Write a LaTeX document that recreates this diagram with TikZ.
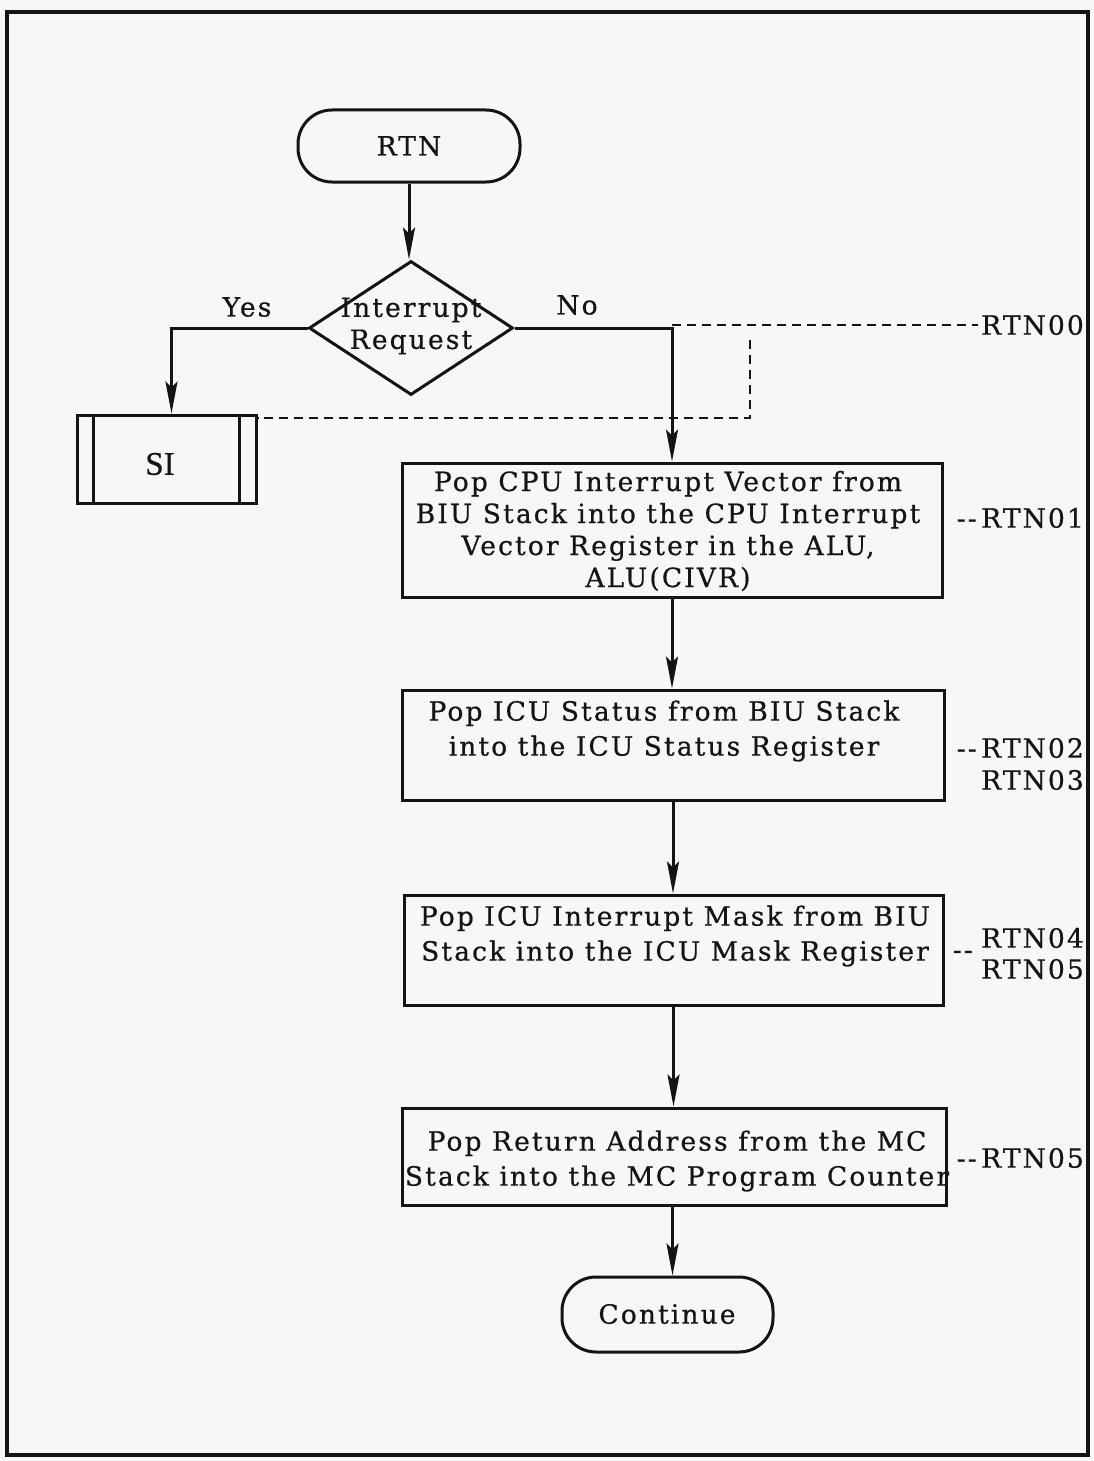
\documentclass[tikz,border=0pt]{standalone}
\usepackage{fontspec}
\setmainfont{DejaVu Serif}[LetterSpace=8,FakeBold=0.6]
\newfontfamily\sifont{Liberation Serif}[FakeBold=0.6]
\usetikzlibrary{shapes.geometric,arrows.meta}
\definecolor{paper}{RGB}{247,247,245}
\definecolor{ink}{RGB}{20,20,20}
\tikzset{
  ln/.style={line width=3pt, draw=ink},
  arr/.style={ln, -{Stealth[length=32pt,width=12pt,inset=6pt]}},
  dsh/.style={line width=2.8pt, draw=ink, dash pattern=on 9pt off 6pt},
  boxnode/.style={ln, rectangle, inner sep=0pt},
  term/.style={ln, rectangle, rounded corners=34pt, inner sep=0pt},
  txt/.style={font=\fontsize{26.5}{32}\selectfont, text=ink, align=center, inner sep=0pt},
  txtw/.style={font=\fontsize{26.5}{35}\selectfont, text=ink, align=center, inner sep=0pt},
  lbl/.style={font=\fontsize{26.5}{31}\selectfont, text=ink, inner sep=0pt}
}
\begin{document}
\begin{tikzpicture}[x=1pt,y=-1pt]
\useasboundingbox (0,0) rectangle (1094,1461);
\fill[paper] (0,0) rectangle (1094,1461);
\draw[line width=3.2pt, draw=ink] (7,12) rectangle (1088,1455);

% terminals
\node[term, minimum width=222pt, minimum height=72pt] (rtn) at (409,146) {};
\node[txt] (rtnt) at (409,146) {RTN};

% decision
\node[ln, diamond, minimum width=204pt, minimum height=134pt, inner sep=0pt] (ir) at (411,328) {};
\node[txt] (irt) at (411,326) {Interrupt\\Request};
\node[lbl] (yes) at (247,307) {Yes};
\node[lbl] (no) at (577,305) {No};

% SI predefined process
\node[boxnode, minimum width=179pt, minimum height=88pt] (si) at (166.5,459) {};
\node[inner sep=0pt, text=ink, font=\sifont\fontsize{33}{36}\selectfont] (sit) at (160,464) {SI};
\draw[ln] ([xshift=18pt]si.north west) -- ([xshift=18pt]si.south west);
\draw[ln] ([xshift=-18pt]si.north east) -- ([xshift=-18pt]si.south east);

% process boxes
\node[boxnode, minimum width=540pt, minimum height=134pt] (b1) at (672,530) {};
\node[txt] (b1t) at (668,531) {Pop CPU Interrupt Vector from\\BIU Stack into the CPU Interrupt\\Vector Register in the ALU,\\ALU(CIVR)};

\node[boxnode, minimum width=542pt, minimum height=110pt] (b2) at (673,745) {};
\node[txtw] (b2t) at (664,731) {Pop ICU Status from BIU Stack\\into the ICU Status Register};

\node[boxnode, minimum width=539pt, minimum height=110pt] (b3) at (673.5,950) {};
\node[txtw] (b3t) at (675,936) {Pop ICU Interrupt Mask from BIU\\Stack into the ICU Mask Register};

\node[boxnode, minimum width=544pt, minimum height=97pt] (b4) at (674,1156.5) {};
\node[txtw] (b4t) at (677,1161) {Pop Return Address from the MC\\Stack into the MC Program Counter};

\node[term, minimum width=211pt, minimum height=75pt] (cont) at (667.5,1314.5) {};
\node[txt] (contt) at (667,1314) {Continue};

% right-hand labels
\node[lbl, anchor=east] (r00) at (1084,325) {RTN00};
\node[lbl, anchor=east] (r01) at (1084,518) {-{}-\,RTN01};
\node[lbl, anchor=east] (r02) at (1084,748) {-{}-\,RTN02};
\node[lbl, anchor=east] (r03) at (1084,780) {RTN03};
\node[lbl, anchor=east] (r04) at (1084,938) {RTN04};
\node[lbl, anchor=east] (r05) at (1084,969) {RTN05};
\node[lbl, anchor=east] (dd3) at ([xshift=-8pt]r04.west |- 0,955) {-{}-};
\node[lbl, anchor=east] (r05b) at (1084,1158) {-{}-\,RTN05};

% connectors
\draw[arr] (rtn.south) -- (rtn.south |- ir.north);
\draw[arr] (ir.west) -| ([xshift=5pt]si.north);
\draw[arr] (ir.east) -| (b1.north);
\draw[arr] (b1.south) -- (b1.south |- b2.north);
\draw[arr] (b2.south) -- (b2.south |- b3.north);
\draw[arr] (b3.south) -- (b3.south |- b4.north);
\draw[arr] (b4.south -| cont.north) ++(5,0) -- ([xshift=5pt]cont.north);

% dashed reference lines
\coordinate (nc) at (672,325);
\coordinate (dv) at (750,340);
\draw[dsh] (nc) -- ([xshift=-3pt]r00.west);
\draw[dsh] (dv) -- (dv |- 0,418) -- (si.north east |- 0,418);
\end{tikzpicture}
\end{document}
